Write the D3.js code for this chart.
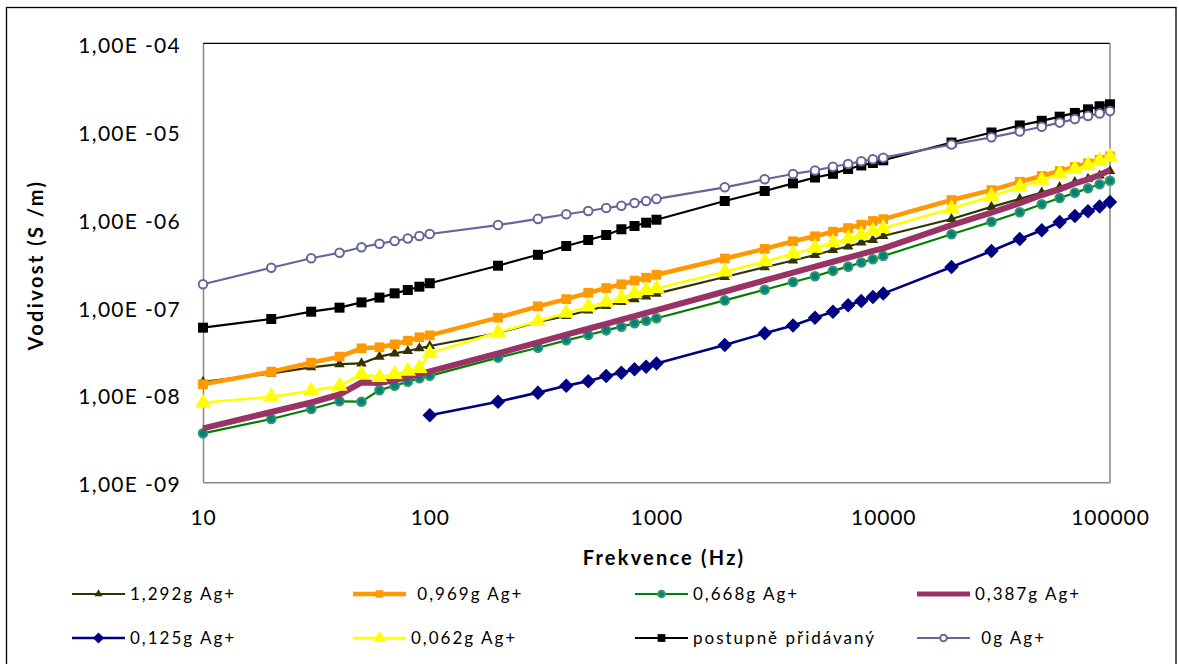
<!DOCTYPE html>
<html>
<head>
<meta charset="utf-8">
<script src="https://cdn.jsdelivr.net/npm/d3@7"></script>
<style>
  body { margin: 0; background: #fff; }
  svg { display: block; font-family: Lato, "Open Sans", sans-serif; }
  .leg text { white-space: pre; }
</style>
</head>
<body>
<svg id="chart" width="1179" height="664"></svg>
<script>
// Measurement frequencies (Hz)
const freq = [10, 20, 30, 40, 50, 60, 70, 80, 90,
  100, 200, 300, 400, 500, 600, 700, 800, 900,
  1000, 2000, 3000, 4000, 5000, 6000, 7000, 8000, 9000,
  10000, 20000, 30000, 40000, 50000, 60000, 70000, 80000, 90000, 100000];

// Conductivity (S/m) for each silver content
const ag1292 = [1.39e-8, 1.74e-8, 2.04e-8, 2.22e-8, 2.26e-8, 2.70e-8, 2.94e-8, 3.13e-8, 3.36e-8,
  3.57e-8, 5.01e-8, 6.70e-8, 7.83e-8, 9.05e-8, 1.02e-7, 1.13e-7, 1.22e-7, 1.31e-7,
  1.41e-7, 2.18e-7, 2.81e-7, 3.36e-7, 3.88e-7, 4.43e-7, 4.85e-7, 5.38e-7, 5.75e-7,
  6.38e-7, 9.97e-7, 1.37e-6, 1.69e-6, 2.00e-6, 2.31e-6, 2.63e-6, 2.86e-6, 3.12e-6, 3.51e-6];

const ag0969 = [1.31e-8, 1.82e-8, 2.30e-8, 2.70e-8, 3.36e-8, 3.45e-8, 3.73e-8, 4.10e-8, 4.48e-8,
  4.72e-8, 7.50e-8, 1.01e-7, 1.22e-7, 1.44e-7, 1.63e-7, 1.80e-7, 1.98e-7, 2.14e-7,
  2.31e-7, 3.54e-7, 4.56e-7, 5.56e-7, 6.34e-7, 7.15e-7, 7.87e-7, 8.59e-7, 9.46e-7,
  9.93e-7, 1.64e-6, 2.13e-6, 2.65e-6, 3.08e-6, 3.51e-6, 3.90e-6, 4.30e-6, 4.72e-6, 5.16e-6];

const ag0668 = [3.61e-9, 5.26e-9, 6.84e-9, 8.37e-9, 8.28e-9, 1.12e-8, 1.26e-8, 1.40e-8, 1.53e-8,
  1.63e-8, 2.63e-8, 3.41e-8, 4.14e-8, 4.76e-8, 5.38e-8, 5.92e-8, 6.47e-8, 6.93e-8,
  7.38e-8, 1.18e-7, 1.56e-7, 1.91e-7, 2.22e-7, 2.56e-7, 2.86e-7, 3.19e-7, 3.47e-7,
  3.78e-7, 6.68e-7, 9.29e-7, 1.19e-6, 1.47e-6, 1.73e-6, 1.98e-6, 2.23e-6, 2.48e-6, 2.72e-6];

const ag0387 = [4.12e-9, 6.32e-9, 8.11e-9, 1.00e-8, 1.37e-8, 1.35e-8, 1.46e-8, 1.58e-8, 1.71e-8,
  1.83e-8, 2.94e-8, 3.92e-8, 4.80e-8, 5.61e-8, 6.38e-8, 7.13e-8, 7.83e-8, 8.51e-8,
  9.16e-8, 1.49e-7, 1.99e-7, 2.44e-7, 2.86e-7, 3.25e-7, 3.62e-7, 3.97e-7, 4.32e-7,
  4.62e-7, 8.51e-7, 1.18e-6, 1.51e-6, 1.87e-6, 2.17e-6, 2.54e-6, 2.82e-6, 3.16e-6, 3.61e-6];

const ag0125 = [null, null, null, null, null, null, null, null, null,
  5.79e-9, 8.28e-9, 1.05e-8, 1.26e-8, 1.42e-8, 1.62e-8, 1.77e-8, 1.94e-8, 2.07e-8,
  2.26e-8, 3.66e-8, 4.98e-8, 6.11e-8, 7.48e-8, 8.77e-8, 1.04e-7, 1.16e-7, 1.29e-7,
  1.41e-7, 2.83e-7, 4.31e-7, 5.90e-7, 7.41e-7, 9.22e-7, 1.08e-6, 1.22e-6, 1.38e-6, 1.56e-6];

const ag0062 = [8.07e-9, 9.44e-9, 1.10e-8, 1.25e-8, 1.70e-8, 1.57e-8, 1.70e-8, 1.85e-8, 1.99e-8,
  2.94e-8, 5.11e-8, 6.82e-8, 8.47e-8, 1.00e-7, 1.13e-7, 1.25e-7, 1.41e-7, 1.54e-7,
  1.61e-7, 2.50e-7, 3.26e-7, 4.01e-7, 4.66e-7, 5.38e-7, 5.95e-7, 6.56e-7, 7.24e-7,
  7.82e-7, 1.31e-6, 1.81e-6, 2.31e-6, 2.77e-6, 3.26e-6, 3.68e-6, 4.06e-6, 4.60e-6, 5.07e-6];

const agStepwise = [5.77e-8, 7.24e-8, 8.77e-8, 9.75e-8, 1.12e-7, 1.27e-7, 1.42e-7, 1.55e-7, 1.69e-7,
  1.85e-7, 2.93e-7, 3.90e-7, 4.91e-7, 5.75e-7, 6.56e-7, 7.62e-7, 8.30e-7, 9.05e-7,
  9.79e-7, 1.60e-6, 2.08e-6, 2.54e-6, 2.96e-6, 3.26e-6, 3.70e-6, 4.06e-6, 4.33e-6,
  4.65e-6, 7.41e-6, 9.64e-6, 1.16e-5, 1.31e-5, 1.46e-5, 1.61e-5, 1.77e-5, 1.92e-5, 2.02e-5];

const ag0 = [1.80e-7, 2.78e-7, 3.56e-7, 4.12e-7, 4.75e-7, 5.22e-7, 5.60e-7, 5.98e-7, 6.38e-7,
  6.73e-7, 8.51e-7, 1.00e-6, 1.13e-6, 1.23e-6, 1.33e-6, 1.41e-6, 1.52e-6, 1.60e-6,
  1.69e-6, 2.29e-6, 2.83e-6, 3.25e-6, 3.56e-6, 3.93e-6, 4.22e-6, 4.53e-6, 4.77e-6,
  4.98e-6, 7.03e-6, 8.49e-6, 9.89e-6, 1.12e-5, 1.25e-5, 1.37e-5, 1.49e-5, 1.59e-5, 1.69e-5];

const seriesNames = ["1,292g Ag+", " 0,969g Ag+", "0,668g Ag+", "0,387g Ag+",
  "0,125g Ag+", "0,062g Ag+", "postupně přidávaný", " 0g Ag+"];

const yTicks = [1e-9, 1e-8, 1e-7, 1e-6, 1e-5, 1e-4];
const yTickLabels = ["1,00E -09", "1,00E -08", "1,00E -07", "1,00E -06", "1,00E -05", "1,00E -04"];
const xTicks = [10, 100, 1000, 10000, 100000];
const xTickLabels = ["10", "100", "1000", "10000", "100000"];

const xTitle = "Frekvence (Hz)";
const yTitle = "Vodivost (S /m)";

// ---- styling per series ----
const styles = [
  { values: ag1292,     stroke: "#333300", width: 2.2, marker: "triangle", size: 48,  fill: "#333300", mstroke: "#333300", mw: 0 },
  { values: ag0969,     stroke: "#FF9900", width: 4.5, marker: "square",   size: 95,  fill: "#FF9900", mstroke: "#FF9900", mw: 0 },
  { values: ag0668,     stroke: "#008000", width: 2.2, marker: "circle",   size: 58,  fill: "#008080", mstroke: "#339966", mw: 2 },
  { values: ag0387,     stroke: "#993366", width: 6,   marker: null },
  { values: ag0125,     stroke: "#000080", width: 2.6, marker: "diamond",  size: 105, fill: "#000080", mstroke: "#000080", mw: 0 },
  { values: ag0062,     stroke: "#FFFF00", width: 2.6, marker: "triangle", size: 115, fill: "#FFFF00", mstroke: "#FFFF00", mw: 0 },
  { values: agStepwise, stroke: "#000000", width: 2.2, marker: "square",   size: 100, fill: "#000000", mstroke: "#000000", mw: 0 },
  { values: ag0,        stroke: "#666699", width: 2.2, marker: "circle",   size: 58,  fill: "#FFFFFF", mstroke: "#666699", mw: 2 }
];

const svg = d3.select("#chart");
const plot = { left: 203, top: 43.3, right: 1110, bottom: 482.3 };

const x = d3.scaleLog().domain([10, 100000]).range([plot.left, plot.right]);
const y = d3.scaleLog().domain([1e-9, 1e-4]).range([plot.bottom, plot.top]);

// outer chart frame
svg.append("rect")
  .attr("x", 6.5).attr("y", 7.5)
  .attr("width", 1169.5).attr("height", 700)
  .attr("fill", "#fff").attr("stroke", "#000").attr("stroke-width", 1.3);

// plot area border: top edge black, others grey
svg.append("line").attr("x1", plot.left).attr("x2", plot.right)
  .attr("y1", plot.top).attr("y2", plot.top).attr("stroke", "#000").attr("stroke-width", 1.3);
svg.append("line").attr("x1", plot.right).attr("x2", plot.right)
  .attr("y1", plot.top).attr("y2", plot.bottom).attr("stroke", "#868686").attr("stroke-width", 1.5);

// axes
const yAxis = d3.axisLeft(y).tickValues(yTicks).tickSize(0).tickPadding(22)
  .tickFormat((d, i) => yTickLabels[i]);
const gy = svg.append("g").attr("transform", `translate(${plot.left},0)`).call(yAxis);
gy.select(".domain").attr("stroke", "#868686").attr("stroke-width", 1.5);
gy.selectAll("text").attr("font-size", 21).attr("fill", "#000")
  .attr("letter-spacing", 1.3).attr("dy", "0.45em")
  .attr("font-family", "Lato, 'Open Sans', sans-serif");

const xAxis = d3.axisBottom(x).tickValues(xTicks).tickSize(0).tickPadding(28)
  .tickFormat((d, i) => xTickLabels[i]);
const gx = svg.append("g").attr("transform", `translate(0,${plot.bottom})`).call(xAxis);
gx.select(".domain").attr("stroke", "#868686").attr("stroke-width", 1.5);
gx.selectAll("text").attr("font-size", 21).attr("fill", "#000")
  .attr("letter-spacing", 0.9)
  .attr("font-family", "Lato, 'Open Sans', sans-serif");

// axis titles
svg.append("text").attr("x", 664).attr("y", 565).attr("text-anchor", "middle")
  .attr("font-size", 20).attr("font-weight", "bold").attr("letter-spacing", 2.2)
  .text(xTitle);
svg.append("text").attr("transform", "translate(43,265) rotate(-90)").attr("text-anchor", "middle")
  .attr("font-size", 20).attr("font-weight", "bold").attr("letter-spacing", 2.4)
  .text(yTitle);

// marker path generator
function markerPath(kind, size) {
  if (kind === "triangle") return d3.symbol(d3.symbolTriangle, size)();
  if (kind === "square" || kind === "diamond") return d3.symbol(d3.symbolSquare, size)();
  return d3.symbol(d3.symbolCircle, size)();
}

const line = d3.line()
  .defined(d => d[1] != null)
  .x(d => x(d[0])).y(d => y(d[1]));

const gSeries = svg.append("g");
styles.forEach(s => {
  const pts = freq.map((f, i) => [f, s.values[i]]);
  const g = gSeries.append("g");
  g.append("path").datum(pts).attr("d", line)
    .attr("fill", "none").attr("stroke", s.stroke).attr("stroke-width", s.width)
    .attr("stroke-linejoin", "round");
  if (s.marker) {
    g.selectAll("path.m").data(pts.filter(d => d[1] != null)).join("path")
      .attr("class", "m")
      .attr("d", markerPath(s.marker, s.size))
      .attr("transform", d => `translate(${x(d[0])},${y(d[1])})${s.marker === "diamond" ? " rotate(45)" : ""}`)
      .attr("fill", s.fill).attr("stroke", s.mstroke).attr("stroke-width", s.mw);
  }
});

// legend
const legCols = [72, 353, 635, 917];
const legRows = [594, 638];
const leg = svg.append("g").attr("class", "leg");
styles.forEach((s, i) => {
  const lx = legCols[i % 4], ly = legRows[Math.floor(i / 4)];
  const g = leg.append("g").attr("transform", `translate(${lx},${ly})`);
  g.append("line").attr("x1", 0).attr("x2", 53).attr("y1", 0).attr("y2", 0)
    .attr("stroke", s.stroke).attr("stroke-width", Math.min(s.width, 5));
  if (s.marker) {
    g.append("path").attr("d", markerPath(s.marker, s.size * 0.6))
      .attr("transform", `translate(26.5,0)${s.marker === "diamond" ? " rotate(45)" : ""}`)
      .attr("fill", s.fill).attr("stroke", s.mstroke).attr("stroke-width", s.mw);
  }
  g.append("text").attr("x", 58).attr("y", 0).attr("dy", "0.36em")
    .attr("font-size", 17).attr("letter-spacing", 2)
    .text(seriesNames[i]);
});
</script>
</body>
</html>
